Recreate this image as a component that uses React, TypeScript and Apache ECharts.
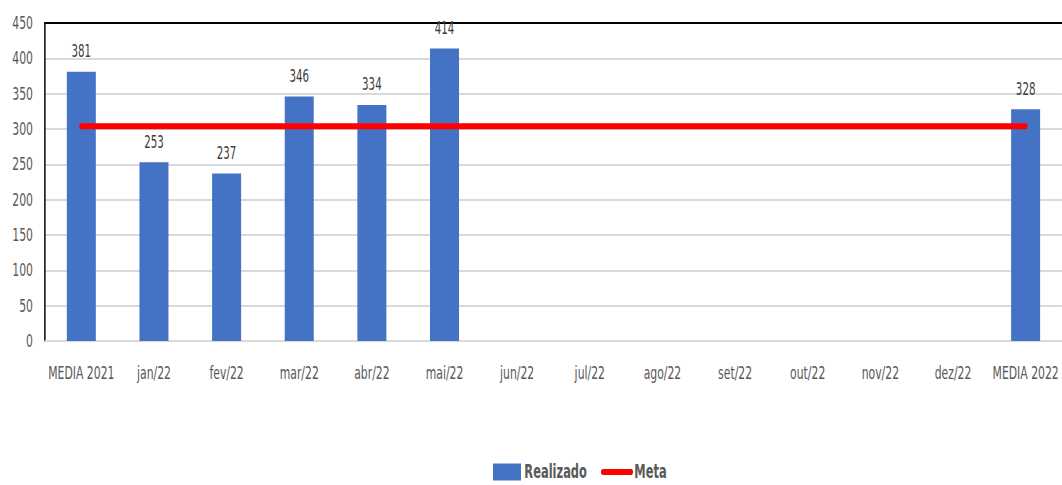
import React, { useEffect, useRef } from "react";
import * as echarts from "echarts";

const categories = [
  "MEDIA 2021", "jan/22", "fev/22", "mar/22", "abr/22", "mai/22", "jun/22",
  "jul/22", "ago/22", "set/22", "out/22", "nov/22", "dez/22", "MEDIA 2022",
];
const realizado: (number | null)[] = [381, 253, 237, 346, 334, 414, null, null, null, null, null, null, null, 328];
const meta: number[] = [304, 304, 304, 304, 304, 304, 304, 304, 304, 304, 304, 304, 304, 304];
const yTicks = { min: 0, max: 450, interval: 50 };

const FONT = "'DejaVu Sans Condensed', 'Liberation Sans Narrow', 'Open Sans', sans-serif";

// the reference uses a tall, narrow face: draw wider and squeeze horizontally
const S = 0.67;
const W = 1062 / S;
const H = 485;
const sx = (v: number) => v / S;

export default function App() {
  const ref = useRef<HTMLDivElement>(null);
  useEffect(() => {
    if (!ref.current) return;
    const chart = echarts.init(ref.current, undefined, { renderer: "svg" });
    chart.setOption({
      animation: false,
      backgroundColor: "#ffffff",
      textStyle: { fontFamily: FONT },
      grid: { left: sx(45), right: 0, top: 23, bottom: 144, containLabel: false },
      legend: {
        top: 462,
        left: sx(493),
        padding: 0,
        itemWidth: sx(28),
        itemHeight: 17,
        itemGap: sx(14),
        itemTextGap: sx(3),
        textStyle: {
          fontFamily: FONT,
          fontSize: 19,
          lineHeight: 20,
          fontWeight: "bold",
          color: "#595959",
        },
        data: [
          { name: "Realizado", icon: "rect" },
          {
            name: "Meta",
            itemStyle: { color: "rgba(0,0,0,0)", borderWidth: 0 },
            lineStyle: { width: 6, color: "#ff0000", cap: "round" },
          },
        ],
      },
      xAxis: [
        {
          type: "category",
          data: categories,
          position: "bottom",
          axisLine: { show: true, lineStyle: { color: "#d9d9d9", width: 2 } },
          axisTick: { show: false },
          axisLabel: { color: "#595959", fontSize: 18, fontFamily: FONT, margin: 23, interval: 0 },
        },
        {
          type: "category",
          data: categories,
          position: "top",
          axisLine: { show: true, lineStyle: { color: "#000000", width: 2 } },
          axisTick: { show: false },
          axisLabel: { show: false },
        },
      ],
      yAxis: {
        type: "value",
        min: yTicks.min,
        max: yTicks.max,
        interval: yTicks.interval,
        axisLine: { show: true, lineStyle: { color: "#000000", width: 2.2 } },
        axisTick: { show: false },
        axisLabel: { color: "#595959", fontSize: 18, fontFamily: FONT, margin: sx(12) },
        splitLine: { show: true, lineStyle: { color: "#d9d9d9", width: 2 } },
      },
      series: [
        {
          name: "Realizado",
          type: "bar",
          data: realizado,
          barWidth: sx(29),
          itemStyle: { color: "#4472c4" },
          label: {
            show: true,
            position: "top",
            distance: 12,
            color: "#404040",
            fontSize: 17,
            fontFamily: FONT,
          },
          z: 2,
        },
        {
          name: "Meta",
          type: "line",
          data: meta,
          symbol: "none",
          lineStyle: { color: "#ff0000", width: 6, cap: "round" },
          itemStyle: { color: "#ff0000" },
          z: 3,
        },
      ],
    });
    return () => chart.dispose();
  }, []);
  return (
    <div
      style={{
        position: "absolute",
        left: 0,
        top: 0,
        width: 1062,
        height: H,
        overflow: "hidden",
        background: "#ffffff",
      }}
    >
      <div
        ref={ref}
        style={{
          width: W,
          height: H,
          transform: `scaleX(${S})`,
          transformOrigin: "0 0",
        }}
      />
    </div>
  );
}
